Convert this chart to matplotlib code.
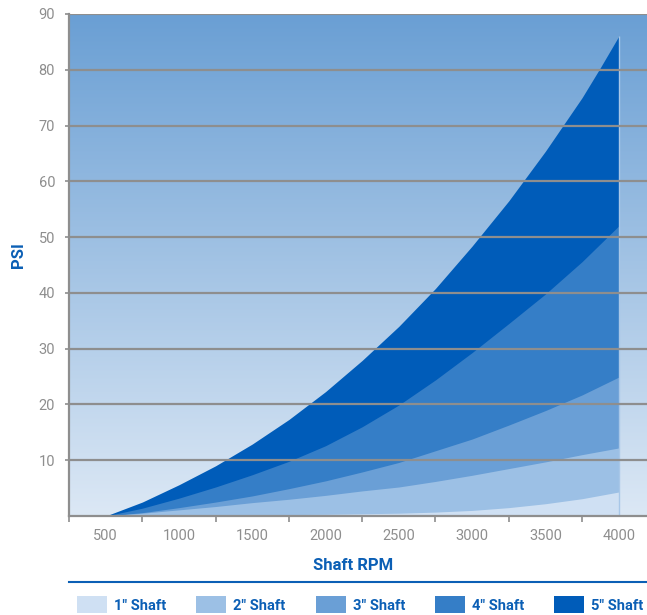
import matplotlib.pyplot as plt
import numpy as np
from matplotlib.colors import LinearSegmentedColormap
from matplotlib.patches import Rectangle
from matplotlib.lines import Line2D

plt.rcParams['font.family'] = ['Roboto', 'DejaVu Sans']

# values (PSI at each shaft speed)
rpm = [500, 750, 1000, 1250, 1500, 1750, 2000, 2250, 2500, 2750, 3000, 3250, 3500, 3750, 3875, 4000]
shaft_1 = [0, 0.05, 0.1, 0.15, 0.2, 0.25, 0.3, 0.4, 0.5, 0.7, 1.0, 1.5, 2.2, 3.1, 3.7, 4.3]
shaft_2 = [0, 0.5, 1.1, 1.7, 2.4, 3.0, 3.7, 4.5, 5.2, 6.2, 7.3, 8.5, 9.7, 11.0, 11.6, 12.2]
shaft_3 = [0, 0.6, 1.5, 2.5, 3.6, 4.9, 6.3, 7.9, 9.6, 11.7, 13.8, 16.3, 18.9, 21.7, 23.3, 24.9]
shaft_4 = [0, 1.4, 3.2, 5.2, 7.4, 9.8, 12.6, 16.0, 19.9, 24.4, 29.3, 34.5, 39.8, 45.6, 48.8, 52.0]
shaft_5 = [0, 2.5, 5.6, 9.0, 12.9, 17.3, 22.3, 27.9, 34.0, 40.8, 48.4, 56.5, 65.4, 75.0, 80.4, 86.0]

labels = ['1" Shaft', '2" Shaft', '3" Shaft', '4" Shaft', '5" Shaft']
colors = ['#cfe0f3', '#9cc0e5', '#6a9fd6', '#357ec7', '#005cb9']
series = [shaft_1, shaft_2, shaft_3, shaft_4, shaft_5]

yticks = [10, 20, 30, 40, 50, 60, 70, 80, 90]
xlabels = [500, 1000, 1500, 2000, 2500, 3000, 3500, 4000]
xticks = [250, 750, 1250, 1750, 2250, 2750, 3250, 3750]

blue = '#0b5fb5'
gray = '#8e8e8e'

fig = plt.figure(figsize=(6.47, 6.15), dpi=100)
ax = fig.add_axes([69 / 647, 1 - 516 / 615, 1 - 69 / 647, (516 - 14) / 615])

xmin, xmax = 250, 4193
grad = LinearSegmentedColormap.from_list('bg', ['#dce8f5', '#6a9fd4'])
ax.imshow(np.linspace(0, 1, 256).reshape(-1, 1), cmap=grad, origin='lower',
          extent=[xmin, xmax, 0, 90], aspect='auto', zorder=0)

# biggest shaft first so smaller ones sit on top
for i in range(4, -1, -1):
    ax.fill_between(rpm, 0, series[i], color=colors[i], lw=0, zorder=1 + (4 - i) * 0.1)
ax.vlines(rpm[-1], 0, shaft_5[-1], color='#a8c7e8', lw=1, zorder=2)

for y in yticks:
    ax.axhline(y, color=gray, lw=1.6, zorder=3)

ax.set_xlim(xmin, xmax)
ax.set_ylim(0, 90)

ax.set_yticks(yticks)
ax.tick_params(axis='y', length=3, width=1.2, color=gray, pad=7, labelsize=10.5, labelcolor=gray)
ax.set_xticks(xticks)
ax.set_xticklabels([''] * len(xticks))
ax.set_xticks(xlabels, minor=True)
ax.set_xticklabels([str(v) for v in xlabels], minor=True)
ax.tick_params(axis='x', which='major', length=4, width=1.2, color=gray)
ax.tick_params(axis='x', which='minor', length=0, pad=9, labelsize=10.5, labelcolor=gray)

for s in ['top', 'right']:
    ax.spines[s].set_visible(False)
for s in ['left', 'bottom']:
    ax.spines[s].set_color(gray)
    ax.spines[s].set_linewidth(1.6)
    ax.spines[s].set_zorder(4)

fig.text(18 / 647, 1 - 255 / 615, 'PSI', rotation=90, ha='center', va='center',
         color=blue, fontsize=12, fontweight='bold')
fig.text(353 / 647, 1 - 566 / 615, 'Shaft RPM', ha='center', va='center',
         color=blue, fontsize=12, fontweight='semibold')

fig.add_artist(Line2D([69 / 647, 1], [1 - 582 / 615] * 2, color=blue, lw=1.5))

box_x = [77, 196, 316, 435, 554]
for i in range(5):
    fig.add_artist(Rectangle((box_x[i] / 647, 1 - 613 / 615), 30 / 647, 17 / 615,
                             facecolor=colors[i], edgecolor='none'))
    fig.text((box_x[i] + 37) / 647, 1 - 606 / 615, labels[i], ha='left', va='center',
             color=blue, fontsize=10.5, fontweight='semibold')

fig.savefig('out.png', dpi=100)
